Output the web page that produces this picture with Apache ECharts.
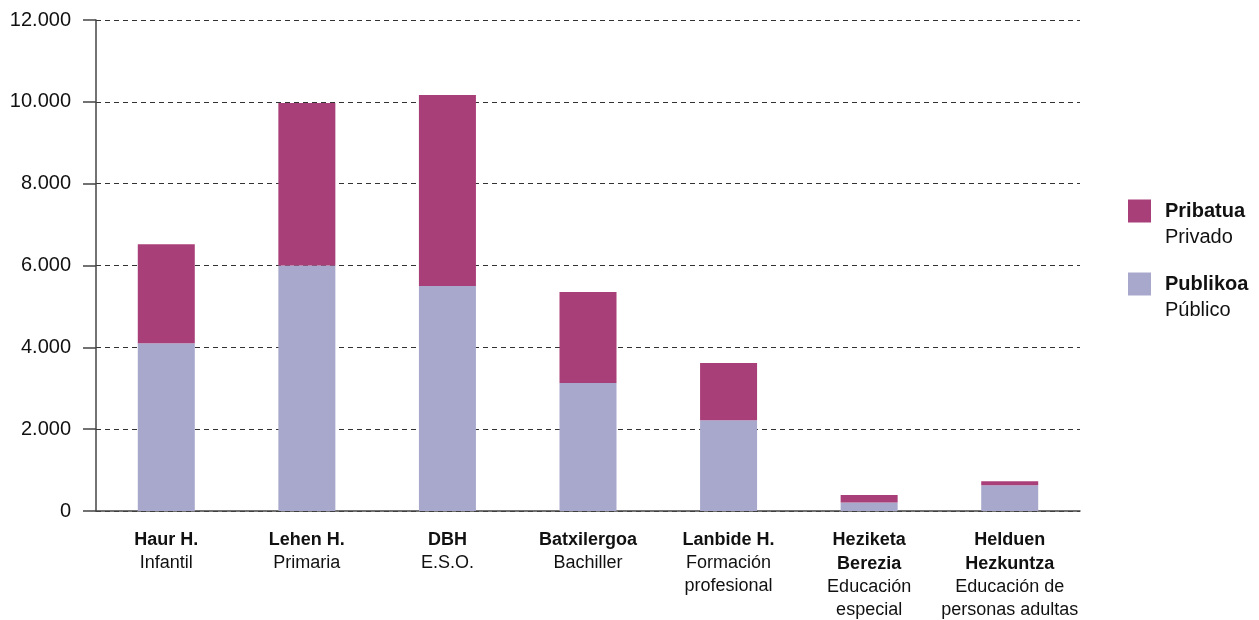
<!DOCTYPE html>
<html>
<head>
<meta charset="utf-8">
<script src="https://cdn.jsdelivr.net/npm/echarts@6/dist/echarts.min.js"></script>
<style>
  html, body { margin: 0; padding: 0; background: #fff; }
  #chart { width: 1259px; height: 620px; }
</style>
</head>
<body>
<div id="chart"></div>
<script>
// categories: bold (euskara) lines + regular (castellano) lines
const catBold = [['Haur H.'], ['Lehen H.'], ['DBH'], ['Batxilergoa'], ['Lanbide H.'], ['Heziketa', 'Berezia'], ['Helduen', 'Hezkuntza']];
const catSub = [['Infantil'], ['Primaria'], ['E.S.O.'], ['Bachiller'], ['Formación', 'profesional'], ['Educación', 'especial'], ['Educación de', 'personas adultas']];

const publico = [4100, 6000, 5500, 3130, 2220, 210, 630];
const privado = [2420, 3970, 4670, 2220, 1400, 180, 100];

const seriesSub = { Pribatua: 'Privado', Publikoa: 'Público' };

const yTicks = [0, 2000, 4000, 6000, 8000, 10000, 12000];

const cats = catBold.map((b, i) => i);

const chart = echarts.init(document.getElementById('chart'));
const font = 'Liberation Sans, Arial, sans-serif';

const option = {
  animation: false,
  textStyle: { fontFamily: font },
  grid: { left: 96, right: 179, top: 20, bottom: 109, containLabel: false },
  legend: {
    data: ['Pribatua', 'Publikoa'],
    orient: 'vertical',
    left: 1123,
    top: 170,
    itemWidth: 23,
    itemHeight: 23,
    itemGap: 1,
    icon: 'rect',
    selectedMode: false,
    formatter: name => '{s| }\n{b|' + name + '}\n{n|' + seriesSub[name] + '}',
    textStyle: {
      rich: {
        s: { fontSize: 20, lineHeight: 26, padding: [0, 0, 0, 9] },
        b: { fontSize: 20, lineHeight: 26, fontWeight: 'bold', color: '#111', fontFamily: font, padding: [0, 0, 0, 9] },
        n: { fontSize: 20, lineHeight: 26, color: '#111', fontFamily: font, padding: [0, 0, 0, 9] }
      }
    }
  },
  xAxis: {
    type: 'category',
    data: cats,
    axisLine: { lineStyle: { color: '#444', width: 1.5 } },
    axisTick: { length: 11, lineStyle: { color: '#444', width: 1.5 } },
    axisLabel: {
      margin: 17,
      interval: 0,
      formatter: (v, i) => catBold[i].map(t => '{b|' + t + '}').concat(catSub[i].map(t => '{n|' + t + '}')).join('\n'),
      rich: {
        b: { fontSize: 18, lineHeight: 24, fontWeight: 'bold', color: '#111', fontFamily: font },
        n: { fontSize: 18, lineHeight: 23, color: '#111', fontFamily: font }
      }
    }
  },
  yAxis: {
    type: 'value',
    min: 0,
    max: 12000,
    interval: 2000,
    axisLine: { show: true, lineStyle: { color: '#444', width: 1.5 } },
    axisTick: { show: true, length: 13, lineStyle: { color: '#444', width: 1.5 } },
    splitLine: { lineStyle: { color: '#333', type: [5, 4], width: 1 } },
    axisLabel: {
      margin: 25,
      fontSize: 20,
      color: '#111',
      formatter: v => yTicks.includes(v) ? v.toLocaleString('de-DE') : ''
    }
  },
  series: [
    {
      name: 'Publikoa',
      type: 'bar',
      stack: 'total',
      barWidth: 57,
      itemStyle: { color: '#a8a8cc' },
      data: publico
    },
    {
      name: 'Pribatua',
      type: 'bar',
      stack: 'total',
      barWidth: 57,
      itemStyle: { color: '#a93f78' },
      data: privado
    }
  ]
};

chart.setOption(option);
</script>
</body>
</html>
